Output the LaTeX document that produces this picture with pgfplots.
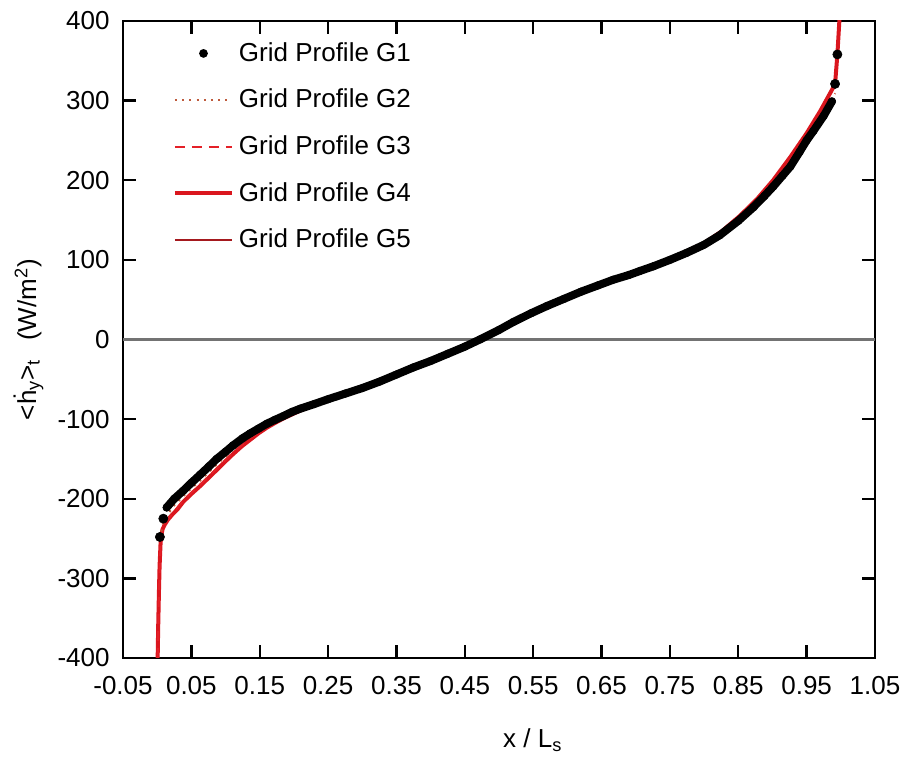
\documentclass[border=0pt]{standalone}
\usepackage{fontspec}
\setmainfont{Liberation Sans}
\usepackage{pgfplots}
\pgfplotsset{compat=1.18}

\definecolor{gtwo}{RGB}{190,90,60}
\definecolor{gthree}{RGB}{228,32,40}
\definecolor{gfour}{RGB}{218,22,30}
\definecolor{gfive}{RGB}{165,25,30}

\begin{document}
\begin{tikzpicture}[font=\fontsize{13}{15.6}\selectfont]
\useasboundingbox (-61.5pt,-55.5pt) rectangle (392pt,329pt);
\begin{axis}[
  at={(0,0)}, anchor=south west,
  scale only axis, width=376pt, height=318.5pt,
  xmin=-0.05, xmax=1.05, ymin=-400, ymax=400,
  xtick={-0.05,0.05,0.15,0.25,0.35,0.45,0.55,0.65,0.75,0.85,0.95,1.05},
  xticklabels={-0.05,0.05,0.15,0.25,0.35,0.45,0.55,0.65,0.75,0.85,0.95,1.05},
  ytick={-400,-300,-200,-100,0,100,200,300,400},
  yticklabels={-400,-300,-200,-100,0,100,200,300,400},
  tick align=inside, major tick length=6.5pt,
  every tick/.style={black, line width=1.2pt},
  axis line style={line width=1.4pt},
  xticklabel style={inner sep=0pt, yshift=-9pt},
  yticklabel style={inner sep=0pt, xshift=-6.5pt},
  xlabel={x / L\textsubscript{s}},
  ylabel={\textless\.{h}\textsubscript{y}\textgreater\textsubscript{t}\hspace{0.7em}(W/m\textsuperscript{2})},
  xlabel style={at={(rel axis cs:0.545,0)}, anchor=center, yshift=-41pt},
  ylabel style={at={(rel axis cs:-0.1257,0.5)}, anchor=center},
  legend cell align=left,
  legend style={at={(rel axis cs:0,1)}, anchor=north west,
    xshift=25pt, yshift=-10.75pt, draw=none, fill=none,
    inner sep=0pt, outer sep=0pt, row sep=12.4pt,
    nodes={inner sep=0pt},
    /tikz/every odd column/.append style={column sep=2.5pt}},
]

% legend entries
\addlegendimage{legend image code/.code={\path[draw=none,fill=none] (0pt,0pt) -- (28.5pt,0pt);
  \fill[black,draw=none] (14.25pt,0pt) circle (2.2pt);}}
\addlegendentry{Grid Profile G1}
\addlegendimage{legend image code/.code={\draw[gtwo, line width=1pt, dash pattern=on 1pt off 2.6pt] (0pt,0pt) -- (28.5pt,0pt);}}
\addlegendentry{Grid Profile G2}
\addlegendimage{legend image code/.code={\draw[gthree, line width=1pt, dash pattern=on 5pt off 3.5pt] (0pt,0pt) -- (28.5pt,0pt);}}
\addlegendentry{Grid Profile G3}
\addlegendimage{legend image code/.code={\draw[gfour, line width=2pt] (0pt,0pt) -- (28.5pt,0pt);}}
\addlegendentry{Grid Profile G4}
\addlegendimage{legend image code/.code={\draw[gfive, line width=0.8pt] (0pt,0pt) -- (28.5pt,0pt);}}
\addlegendentry{Grid Profile G5}

% zero reference line
\addplot[forget plot, black!55, line width=1.1pt] coordinates {(-0.05,0) (1.05,0)};

% G5
\addplot[forget plot, gfive, line width=0.8pt, line join=round] table {
x y
0.0007 -400
0.0015 -358
0.0025 -318
0.0035 -284
0.005 -255
0.0065 -243
0.008 -237
0.0114 -231
0.016 -225
0.022 -219
0.030 -212
0.038 -203
0.050 -193
0.063 -183
0.075 -173
0.087 -163
0.100 -152
0.111 -143
0.124 -133
0.136 -125
0.148 -117
0.160 -110
0.172 -104
0.185 -98
0.21 -88
0.25 -76
0.30 -62
0.35 -45
0.40 -27
0.45 -9
0.472 0
0.50 12
0.55 34
0.60 53
0.65 69
0.70 84
0.75 101
0.80 121
0.826 136
0.852 155
0.877 176
0.901 200
0.926 229
0.950 259
0.970 287
0.9867 313
0.9916 321
0.995 358
0.9975 402
};

% G4
\addplot[forget plot, gfour, line width=2pt, line join=round] table {
x y
0.0007 -400
0.0015 -360
0.0025 -320
0.0035 -285
0.005 -255
0.0065 -244
0.008 -238
0.0114 -232
0.016 -226
0.022 -220
0.030 -213
0.038 -204
0.050 -194
0.063 -184
0.075 -174
0.087 -164
0.100 -153
0.111 -144
0.124 -134
0.136 -126
0.148 -118
0.160 -111
0.172 -105
0.185 -99
0.21 -89
0.25 -76
0.30 -62
0.35 -45
0.40 -27
0.45 -9
0.472 0
0.50 12
0.55 34
0.60 53
0.65 69
0.70 84
0.75 101
0.80 121
0.826 136
0.852 155
0.877 176
0.901 200
0.926 229
0.950 259
0.970 287
0.9867 313
0.9916 321
0.995 358
0.998 402
};

% G3
\addplot[forget plot, gthree, line width=1pt, dash pattern=on 5pt off 3.5pt] table {
x y
0.0007 -400
0.0025 -320
0.005 -255
0.008 -238
0.0114 -231
0.022 -219
0.038 -202
0.063 -182
0.087 -162
0.111 -142
0.136 -124
0.160 -110
0.185 -97
0.21 -88
0.25 -76
0.30 -62
0.35 -45
0.40 -27
0.45 -9
0.472 0
0.50 12
0.55 34
0.60 53
0.65 69
0.70 84
0.75 100
0.80 120
0.826 135
0.852 153
0.877 173
0.901 197
0.926 225
0.950 255
0.970 282
0.9916 309
};

% G2
\addplot[forget plot, gtwo, line width=1pt, dash pattern=on 1pt off 2.6pt] table {
x y
0.004 -250
0.009 -228
0.016 -219
0.025 -208
0.038 -197
0.050 -187
0.063 -177
0.075 -167
0.087 -157
0.100 -147
0.111 -138
0.136 -121
0.160 -108
0.185 -97
0.21 -88
0.25 -75
0.30 -61
0.35 -44
0.40 -27
0.45 -9
0.472 0
0.50 12
0.55 34
0.60 53
0.65 68
0.70 84
0.75 100
0.80 119
0.826 133
0.852 152
0.877 171
0.901 195
0.926 223
0.950 253
0.970 280
0.9916 309
};

% G1: densely spaced profile points
\addplot[forget plot, black, line width=4pt, line join=round, line cap=round,
  mark=*, mark size=1.9pt, mark options={solid, line width=0.3pt}] table {
x y
0.0139 -211
0.025 -200
0.038 -190
0.050 -180
0.0626 -170
0.075 -160
0.087 -150
0.100 -141
0.111 -133
0.125 -124
0.136 -118
0.148 -112
0.160 -106
0.172 -101
0.185 -96
0.197 -91
0.209 -87
0.23 -81
0.25 -75
0.275 -68
0.30 -61
0.325 -53
0.35 -44
0.375 -35
0.40 -27
0.425 -18
0.45 -9
0.472 0
0.50 12
0.521 22
0.547 33
0.57 42
0.595 51
0.62 60
0.645 68
0.667 75
0.69 81
0.706 86
0.726 92
0.75 100
0.775 109
0.80 119
0.823 131
0.85 149
0.872 166
0.888 180
0.901 192
0.915 206
0.926 217
0.94 236
0.950 250
0.96 262
0.975 281
0.987 299
};
\addplot[forget plot, only marks, black, mark=*, mark size=2.3pt,
  mark options={line width=0.3pt}] table {
x y
0.004 -248
0.009 -225
0.9916 321
0.995 358
};
\end{axis}
\end{tikzpicture}
\end{document}
